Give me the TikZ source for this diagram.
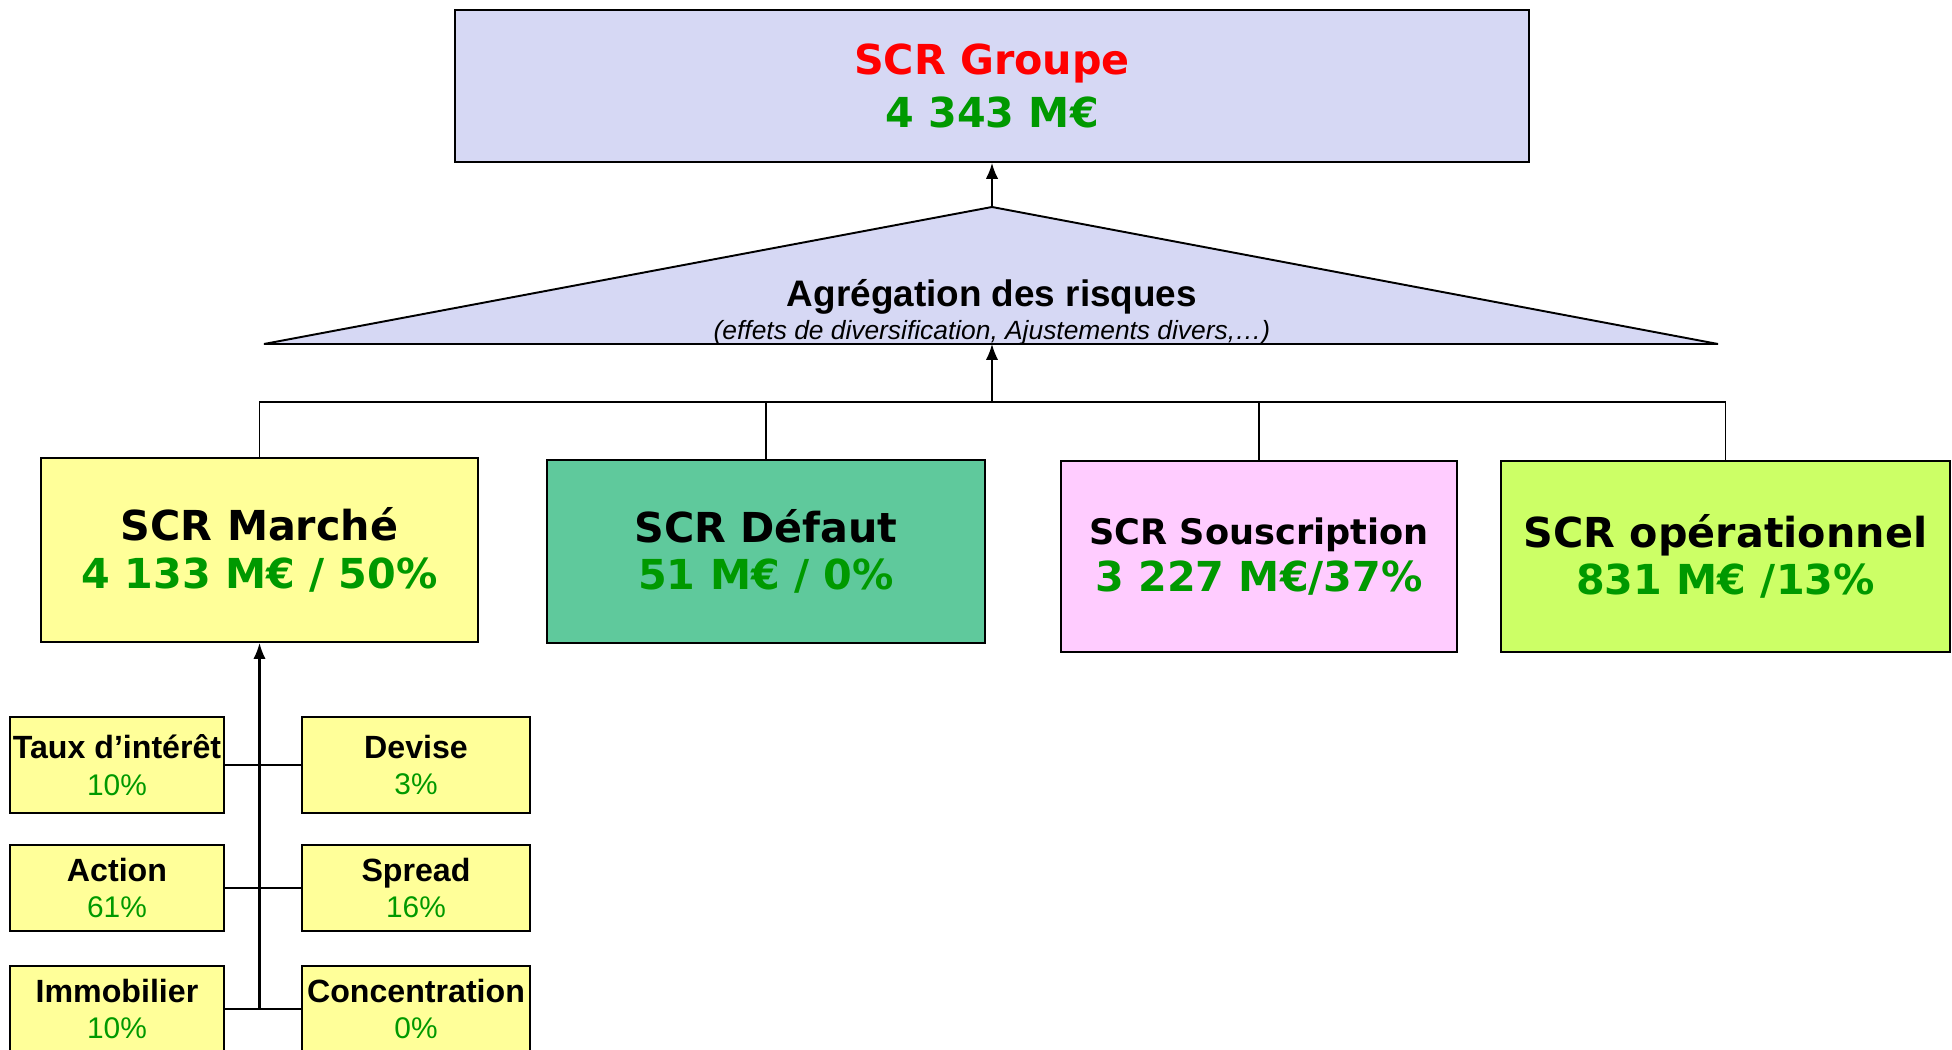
\documentclass[tikz,border=0pt]{standalone}
\usepackage{fontspec}
\setmainfont{Liberation Sans}
\newfontfamily\verdana{DejaVu Sans}
\usepackage{tikz}
\usetikzlibrary{calc,arrows.meta}
\definecolor{lavande}{RGB}{214,216,244}
\definecolor{jaune}{RGB}{255,255,153}
\definecolor{vertfond}{RGB}{95,201,156}
\definecolor{rose}{RGB}{255,204,255}
\definecolor{citron}{RGB}{204,255,102}
\definecolor{vert}{RGB}{0,153,0}
\definecolor{rouge}{RGB}{255,0,0}
\newcommand{\pctfont}{\mdseries\fontsize{17}{21}\selectfont}

\begin{document}
\begin{tikzpicture}[x=0.02cm,y=-0.02cm,>={Latex[length=9pt,width=7pt]},line width=1pt,
  bigbox/.style={draw,line width=1.1pt,inner sep=0pt,align=center,
    font=\verdana\bfseries\fontsize{23.5}{27}\selectfont},
  smallbox/.style={draw,line width=1pt,fill=jaune,inner sep=0pt,align=center,
    minimum height=1.72cm,font=\bfseries\fontsize{18.3}{21}\selectfont}]

  \useasboundingbox (0,0) rectangle (1952,1050);

  \node[bigbox,fill=lavande,minimum width=21.48cm,minimum height=3.04cm,
    font=\verdana\bfseries\fontsize{23.5}{30}\selectfont] (groupe) at (992,86)
    {\textcolor{rouge}{SCR Groupe}\\ \textcolor{vert}{4 343 M€}};

  \coordinate (apex) at (992,207);
  \coordinate (tl) at (264,344);
  \coordinate (tr) at (1718,344);
  \coordinate (base) at (992,344);
  \filldraw[fill=lavande,line width=1.1pt] (tl) -- (apex) -- (tr) -- cycle;
  \draw[->] (apex) -- (groupe);
  \node[anchor=base,font=\bfseries\fontsize{21}{25}\selectfont] (agreg) at (992,307)
    {Agrégation des risques};
  \node[anchor=base,font=\itshape\fontsize{15}{18}\selectfont] (agregsub) at (992,340)
    {(effets de diversification, Ajustements divers,…)};

  \node[bigbox,fill=jaune,minimum width=8.74cm,minimum height=3.68cm] (marche) at (259.5,550)
    {SCR Marché\\ \textcolor{vert}{4 133 M€ / 50\%}};
  \node[bigbox,fill=vertfond,minimum width=8.76cm,minimum height=3.66cm] (defaut) at (766,551.5)
    {SCR Défaut\\ \textcolor{vert}{51 M€ / 0\%}};
  \node[bigbox,fill=rose,minimum width=7.92cm,minimum height=3.82cm] (sousc) at (1259,556.5)
    {{\fontsize{20}{27}\selectfont SCR Souscription}\\ \textcolor{vert}{3 227 M€/37\%}};
  \node[bigbox,fill=citron,minimum width=8.98cm,minimum height=3.82cm] (oper) at (1725.5,556.5)
    {SCR opérationnel\\ \textcolor{vert}{831 M€ /13\%}};

  \coordinate (bus) at (992,402);
  \draw (marche) |- (bus) -| (oper);
  \draw (defaut) |- (bus);
  \draw (sousc) |- (bus);
  \draw[->] (bus) -- (base);

  \node[smallbox,minimum width=4.28cm,minimum height=1.92cm] (taux) at (117,765)
    {Taux d’intérêt\\ \textcolor{vert}{\pctfont 10\%}};
  \node[smallbox,minimum width=4.56cm,minimum height=1.92cm] (devise) at (416,765)
    {Devise\\ \textcolor{vert}{\pctfont 3\%}};
  \node[smallbox,minimum width=4.28cm] (action) at (117,888)
    {Action\\ \textcolor{vert}{\pctfont 61\%}};
  \node[smallbox,minimum width=4.56cm] (spread) at (416,888)
    {Spread\\ \textcolor{vert}{\pctfont 16\%}};
  \node[smallbox,minimum width=4.28cm] (immo) at (117,1009)
    {Immobilier\\ \textcolor{vert}{\pctfont 10\%}};
  \node[smallbox,minimum width=4.56cm] (conc) at (416,1009)
    {Concentration\\ \textcolor{vert}{\pctfont 0\%}};

  \draw[->,line width=1.2pt] (marche.south |- immo.east) -- (marche.south);
  \foreach \a/\b in {taux/devise,action/spread,immo/conc}
    \draw (\a.east) -- (\b.west);
\end{tikzpicture}
\end{document}
